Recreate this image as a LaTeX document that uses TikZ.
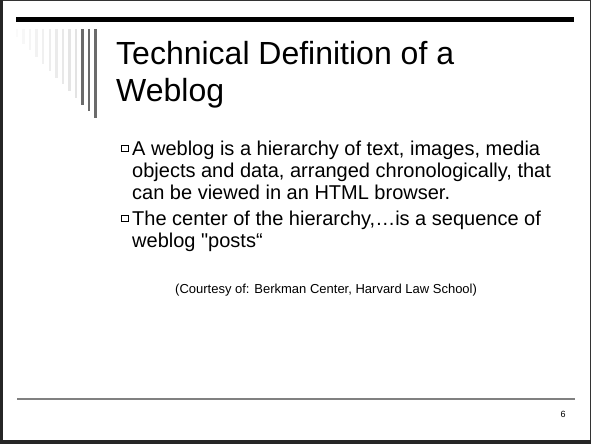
\documentclass[tikz,border=0pt]{standalone}
\usepackage{fontspec}
\setmainfont{Liberation Sans}[Ligatures=TeXOff]
\begin{document}
\begin{tikzpicture}[x=1pt, y=-1pt,
    every node/.style={inner sep=0pt, anchor=base west},
    titletext/.style={font=\fontsize{32}{37}\selectfont},
    bodytext/.style={font=\fontsize{20}{24}\selectfont},
    bulletbox/.style={draw, line width=0.6pt, minimum size=6.5pt, anchor=center}]
    \useasboundingbox (0,0) rectangle (591,444);
    \draw[black!80, line width=1.5pt] (0.75,0.75) rectangle (590.25,443.25);
    \fill[black!85] (0,0) rectangle (2.8,444);
    \fill[black!85] (0,440) rectangle (591,444);

    \fill (16,17) rectangle (574,22);
    \foreach \i/\shade in {0/2,1/3,2/4,3/5,4/6,5/7,6/8,7/9,8/10,9/11}
        \fill[black!\shade] ({15.8+6.55*\i},29) rectangle ++(2.4,{8+6.75*\i});
    \foreach \i in {10,11,12}
        \fill[black!58] ({15.8+6.55*\i},29) rectangle ++(2.4,{8+6.75*\i});

    \node[titletext] (t1) at (116,64) {Technical Definition of a};
    \node[titletext] (t2) at (116,101) {Weblog};

    \node[bulletbox] (b1) at (124.8,148.5) {};
    \node[bodytext] (1) at (132,155) {A weblog is a hierarchy of text, images, media};
    \node[bodytext] (2) at (132,177) {objects and data, arranged chronologically, that};
    \node[bodytext] (3) at (132,199) {can be viewed in an HTML browser.};
    \node[bulletbox] (b2) at (124.8,218.5) {};
    \node[bodytext] (4) at (132,225) {The center of the hierarchy,…is a sequence of};
    \node[bodytext] (5) at (132,247) {weblog "posts“};

    \node[font=\fontsize{13}{15}\selectfont] (c) at (175,293) {(Courtesy of: Berkman Center, Harvard Law School)};

    \draw[black!50, line width=1.5pt] (17,399) -- (575,399);
    \node[font=\fontsize{9}{11}\selectfont, anchor=base] (n) at (563,417) {6};
\end{tikzpicture}
\end{document}
